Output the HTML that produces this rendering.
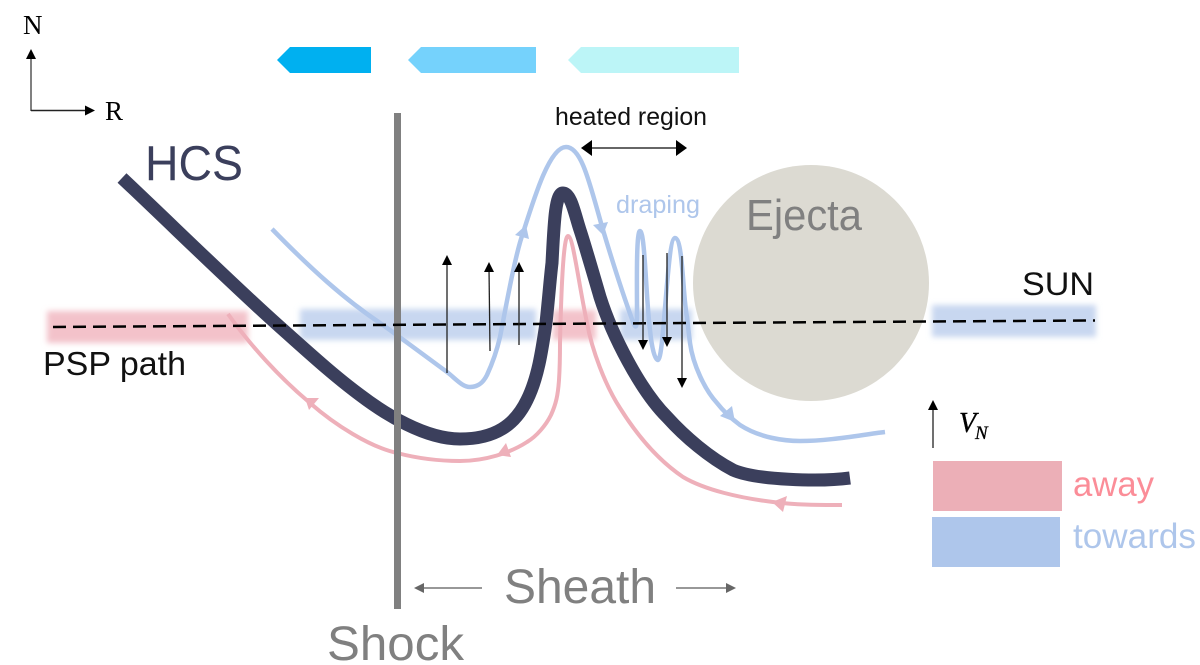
<!DOCTYPE html>
<html><head><meta charset="utf-8"><style>
html,body{margin:0;padding:0;background:#fff;width:1200px;height:665px;overflow:hidden}
svg{display:block}
text{font-family:"Liberation Sans",sans-serif}
</style></head><body>
<svg width="1200" height="665" viewBox="0 0 1200 665" xmlns="http://www.w3.org/2000/svg">
<defs>
<filter id="b" x="-10%" y="-40%" width="120%" height="180%"><feGaussianBlur stdDeviation="3"/></filter>
</defs>
<!-- top arrows -->
<polygon points="277,60 290,47 371,47 371,73 290,73" fill="#00b0f0"/>
<polygon points="408,60 421,47 536,47 536,73 421,73" fill="#75d2fc"/>
<polygon points="568,60 581,47 739,47 739,73 581,73" fill="#bcf5f7"/>
<!-- axes -->
<line x1="31" y1="111" x2="31" y2="58" stroke="#555" stroke-width="1.500"/>
<polygon points="31,49 26,59 36,59" fill="#000"/>
<line x1="31" y1="110.500" x2="86" y2="110.500" stroke="#222" stroke-width="1.500"/>
<polygon points="95,110.500 85,105.500 85,115.500" fill="#000"/>
<text x="23" y="34" font-size="27" style="font-family:'Liberation Serif',serif">N</text>
<text x="105" y="120" font-size="27" style="font-family:'Liberation Serif',serif">R</text>
<text x="145" y="180" font-size="49" fill="#3b3f5c" textLength="98" lengthAdjust="spacingAndGlyphs">HCS</text>
<!-- bands -->
<g filter="url(#b)">
<rect x="47" y="311" width="201" height="32" fill="#f3c2ca"/>
<rect x="300" y="309" width="236" height="31" fill="#c8d7f0"/>
<rect x="553" y="310" width="43" height="30" fill="#f3c2ca"/>
<rect x="620" y="309" width="72" height="31" fill="#c8d7f0"/>
<rect x="932" y="305" width="164" height="32" fill="#c8d7f0"/>
</g>
<!-- ejecta -->
<circle cx="811" cy="283" r="118" fill="#dcdad2"/>
<text x="746" y="230" font-size="44" fill="#808080" textLength="116" lengthAdjust="spacingAndGlyphs">Ejecta</text>
<!-- blue line -->
<path d="M272 229 C310 268 345 300 383 325 C405 341 428 358 447 372 C455 378 462 387 470 387 C478 387 483 383 487 375 C493 362 497 350 500 337 C505 312 515 255 523 233 C535 195 550 147 566 147 C582 147 590 185 603 230 C612 260 625 300 633 322 C636 330 637 328 637 310 C637 290 636 231 640 231 C645 231 646 300 650 330 C652 350 655 360 658 360 C664 360 667 238 675 238 C683 238 683 300 687 317 C688 327 689 335 690 343 C693 365 705 390 717 403 C724 412 732 419 740 425 C760 438 785 441 800 441 C830 441 860 435 885 432" fill="none" stroke="#aec6eb" stroke-width="4.500"/>
<polygon points="526,225 515,235 529,239" fill="#aec6eb"/>
<polygon points="603,235 593,225 608,222" fill="#aec6eb"/>
<polygon points="735,422 720,416 732,406" fill="#aec6eb"/>
<!-- pink line -->
<path d="M228 314 C250 345 280 378 310 403 C335 425 370 447 397 453 C420 459 440 461 460 461 C485 461 510 453 527 442 C537 436 546 425 551 415 C556 404 558 395 559 380 C560 365 560 355 560 343 C561 300 563 236 568 236 C573 236 578 280 587 323 C592 350 605 385 620 408 C635 432 655 458 683 477 C705 490 740 498 773 502 C795 505 820 505 842 505" fill="none" stroke="#eeb0ba" stroke-width="4"/>
<polygon points="305,398 319,398 309,410" fill="#eeb0ba"/>
<polygon points="497,455 506,443 511,457" fill="#eeb0ba"/>
<polygon points="772,502 787,496 783,512" fill="#eeb0ba"/>
<!-- HCS -->
<path d="M122 178 C175 228 235 287 280 327 C307 351 333 375 360 395 C385 414 425 439 460 439 C495 439 515 425 527 400 C538 378 542 350 546 323 C549 295 550 280 552 263 C554 225 555 193 563 193 C571 193 575 215 580 230 C585 245 595 280 600 297 C612 335 640 390 667 417 C685 437 710 458 733 470 C755 480 820 482 850 478" fill="none" stroke="#3b3f5c" stroke-width="13" stroke-linejoin="round"/>
<!-- shock -->
<rect x="394" y="113" width="7" height="496" fill="#808080"/>
<!-- dashed -->
<line x1="53" y1="327" x2="1095" y2="320.500" stroke="#000" stroke-width="2.500" stroke-dasharray="13 7"/>
<!-- N arrows -->
<g stroke="#222" stroke-width="1.300">
<line x1="447" y1="262" x2="447" y2="373"/>
<line x1="489" y1="268" x2="490" y2="351"/>
<line x1="519" y1="268" x2="519" y2="345"/>
<line x1="643" y1="255" x2="643" y2="342"/>
<line x1="667" y1="253" x2="667" y2="342"/>
<line x1="682" y1="256" x2="682" y2="381"/>
<line x1="933" y1="408" x2="933" y2="448"/>
</g>
<g fill="#000">
<polygon points="447,255 442,265 452,265"/>
<polygon points="489,262 484,272 494,272"/>
<polygon points="519,262 514,272 524,272"/>
<polygon points="643,350 638,340 648,340"/>
<polygon points="667,347 662,337 672,337"/>
<polygon points="682,388 677,378 687,378"/>
<polygon points="933,400 928,410 938,410"/>
</g>
<!-- heated -->
<line x1="590" y1="148" x2="680" y2="148" stroke="#333" stroke-width="1.500"/>
<polygon points="581,148 592,140 592,156" fill="#000"/>
<polygon points="687,148 676,140 676,156" fill="#000"/>
<text x="555" y="125" font-size="25" fill="#111" textLength="152" lengthAdjust="spacingAndGlyphs">heated region</text>
<text x="616" y="213" font-size="25" fill="#aec6eb" textLength="84" lengthAdjust="spacingAndGlyphs">draping</text>
<text x="1022" y="295" font-size="32" fill="#111" textLength="72" lengthAdjust="spacingAndGlyphs">SUN</text>
<text x="43" y="375" font-size="33" fill="#111" textLength="143" lengthAdjust="spacingAndGlyphs">PSP path</text>
<!-- sheath -->
<text x="504" y="603" font-size="48" fill="#808080" textLength="152" lengthAdjust="spacingAndGlyphs">Sheath</text>
<line x1="420" y1="588" x2="482" y2="588" stroke="#777" stroke-width="1.500"/>
<polygon points="414,588 424,583 424,593" fill="#666"/>
<line x1="676" y1="588" x2="730" y2="588" stroke="#777" stroke-width="1.500"/>
<polygon points="736,588 726,583 726,593" fill="#666"/>
<text x="327" y="660" font-size="48" fill="#808080" textLength="137" lengthAdjust="spacingAndGlyphs">Shock</text>
<!-- legend -->
<text x="959" y="432" font-size="28" font-style="italic" stroke="#000" stroke-width="0.400" style="font-family:'Liberation Serif',serif">V</text>
<text x="975" y="439" font-size="19" font-style="italic" stroke="#000" stroke-width="0.300" style="font-family:'Liberation Serif',serif">N</text>
<rect x="933" y="461" width="129" height="50" fill="#ecafb7"/>
<rect x="932" y="517" width="128" height="50" fill="#aec6eb"/>
<text x="1073" y="496" font-size="35" fill="#fb8d98" textLength="81" lengthAdjust="spacingAndGlyphs">away</text>
<text x="1073" y="548" font-size="35" fill="#aec6eb" textLength="123" lengthAdjust="spacingAndGlyphs">towards</text>
</svg>
</body></html>
